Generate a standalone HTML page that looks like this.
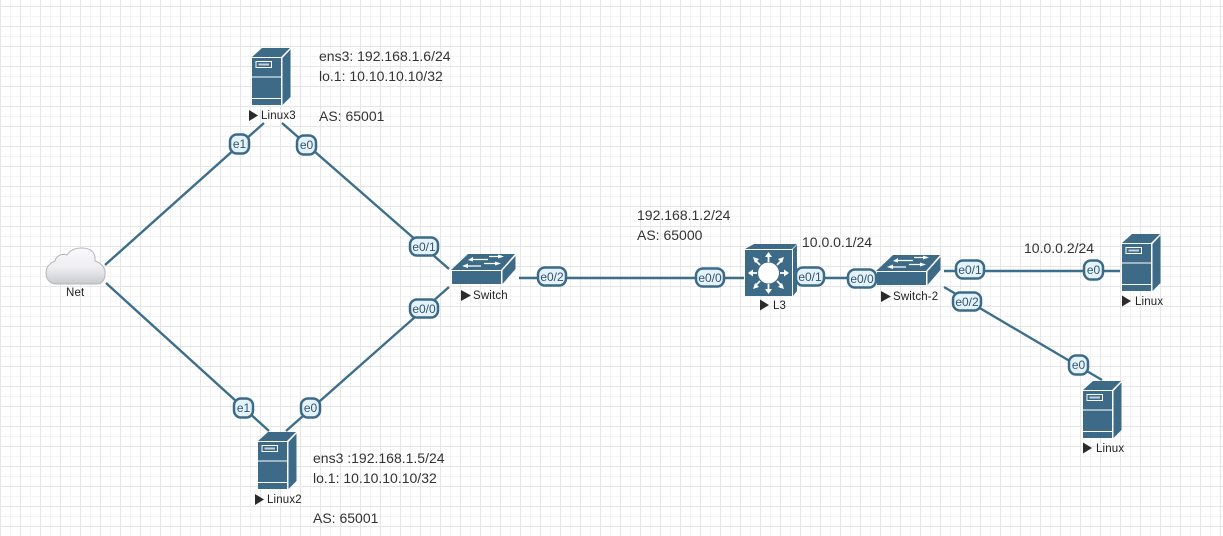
<!DOCTYPE html>
<html><head><meta charset="utf-8"><style>
html,body{margin:0;padding:0;background:#fff;width:1223px;height:536px;overflow:hidden}
svg{display:block}
.t{font:14px "Liberation Sans",sans-serif;fill:#333}
.n{font:11.5px "Liberation Sans",sans-serif;fill:#222;letter-spacing:.15px}
.l{font:12px "Liberation Sans",sans-serif;fill:#33566c;text-anchor:middle}
.b{fill:#e4f2fb;stroke:#3d6b87;stroke-width:2.5}
.k{stroke:#3d6e8a;stroke-width:2.4;fill:none}
</style></head><body>
<svg width="1223" height="536" viewBox="0 0 1223 536" xmlns="http://www.w3.org/2000/svg">
<defs>
<pattern id="g" x="0" y="6" width="20" height="20" patternUnits="userSpaceOnUse">
<path d="M10.5 0V20M0 10.5H20" stroke="#f3f3f3" stroke-width="1" fill="none"/>
<path d="M0.5 0V20M0 0.5H20" stroke="#e6e6e6" stroke-width="1" fill="none"/>
</pattern>
<linearGradient id="c" x1="0" y1="0" x2="0" y2="1"><stop offset="0" stop-color="#fafafc"/><stop offset="0.55" stop-color="#eeeef1"/><stop offset="1" stop-color="#c9cace"/></linearGradient>
<g id="srv">
<path d="M0 9L10 0H38L29 9Z" fill="#3d6b87"/>
<path d="M0 10H29V57H0Z" fill="#3d6b87"/>
<path d="M30.500 10L38.500 1.500V49L30.500 57Z" fill="#3d6b87"/>
<rect x="4" y="13.500" width="15.500" height="6" fill="none" stroke="#fff" stroke-width="1"/>
<rect x="6.500" y="15.500" width="10.500" height="2" fill="#fff" opacity=".7"/>
<path d="M0 29H29M0 50.500H29" stroke="#fff" stroke-width="1"/>
</g>
<g id="sw">
<path d="M0 16L17 0H64L50 16Z" fill="#3d6b87"/>
<path d="M1 17H50V30H1Z" fill="#3d6b87"/>
<path d="M51.500 16.500L64.500 2V15L51.500 30Z" fill="#3d6b87"/>
<path d="M22 5.500H37M38 2.500L51 2.500M17 12H30M33 9.500H47" stroke="#fff" stroke-width="1.300"/>
<path d="M22 3L17 6L22 7.500ZM47 0.500L53 2.500L47 4.500ZM17 9.500L11 12L17 14ZM44 7.500L50 9.500L44 11.500Z" fill="#fff"/>
</g>
</defs>
<rect width="1223" height="536" fill="#fff"/>
<rect width="1223" height="536" fill="url(#g)"/>

<g class="k">
<path d="M105 265L264 123"/>
<path d="M282 123L449 269"/>
<path d="M106 283L269 431"/>
<path d="M449 287L286 431"/>
<path d="M519 278H744"/>
<path d="M824 278H848"/>
<path d="M944 271H1120"/>
<path d="M944 287L1102 380"/>
</g>

<!-- cloud -->
<path d="M56 284C49 284 46 278 46 273C46 267 50 263 55 261C56 256 62 253 67 255C70 250 76 248 82 248C90 248 96 252 95 261C101 263 106 268 105 274C105 280 102 284 97 284Z" fill="url(#c)" stroke="#b5b6bc" stroke-width="1"/>
<text class="n" x="66" y="296">Net</text>

<!-- servers -->
<use href="#srv" x="252" y="48"/>
<use href="#srv" x="258" y="432"/>
<use href="#srv" x="1122" y="234"/>
<use href="#srv" x="1083" y="381"/>

<!-- switches -->
<use href="#sw" x="451" y="254"/>
<use href="#sw" x="876" y="255"/>

<!-- L3 -->
<path d="M745 249L754 244H797L792 249Z" fill="#3d6b87"/>
<rect x="745" y="250" width="47" height="46" fill="#3d6b87"/>
<path d="M793 249L797 245V291L793 296Z" fill="#3d6b87"/>
<circle cx="768.500" cy="273" r="10.500" fill="#fff"/>
<g stroke="#fff" stroke-width="1.800" fill="#fff">
<path d="M768.500 262V255M768.500 284V291M757 273H751M780 273H786M760 265L755 260M777 265L782 260M760 281L755 286M777 281L782 286"/>
</g>
<path d="M768.500 252L765 257H772ZM768.500 294L765 289H772ZM748 273L753 269.500V276.500ZM789 273L784 269.500V276.500ZM753 257L759 259L755 263ZM784 257L778 259L782 263ZM753 289L755 283L759 287ZM784 289L782 283L778 287Z" fill="#fff"/>

<!-- node labels -->
<path d="M249 110L258 115.500L249 121Z M255 494L264 499.500L255 505Z M461 290L471 295.500L461 301Z M881 291L891 296.500L881 302Z M760 299.500L769 305L760 310.500Z M1122 295.500L1131 301L1122 306.500Z M1083 442.500L1092 448L1083 453.500Z" fill="#2b2b2b"/>
<text class="n" x="261" y="119">Linux3</text>
<text class="n" x="267" y="503">Linux2</text>
<text class="n" x="473" y="299">Switch</text>
<text class="n" x="893" y="300">Switch-2</text>
<text class="n" x="773" y="309">L3</text>
<text class="n" x="1135" y="305">Linux</text>
<text class="n" x="1096" y="452">Linux</text>

<!-- connector labels -->
<g>
<rect class="b" x="230" y="134.500" width="19" height="19" rx="7"/><text class="l" x="239.500" y="148">e1</text>
<rect class="b" x="297" y="135.500" width="19" height="19" rx="7"/><text class="l" x="306.500" y="149">e0</text>
<rect class="b" x="410" y="237.500" width="28" height="18" rx="7"/><text class="l" x="424" y="251">e0/1</text>
<rect class="b" x="410" y="299.500" width="28" height="18" rx="7"/><text class="l" x="424" y="313">e0/0</text>
<rect class="b" x="234" y="398.500" width="19" height="19" rx="7"/><text class="l" x="243.500" y="412">e1</text>
<rect class="b" x="301" y="398.500" width="19" height="19" rx="7"/><text class="l" x="310.500" y="412">e0</text>
<rect class="b" x="538" y="267.500" width="28" height="18" rx="7"/><text class="l" x="552" y="281">e0/2</text>
<rect class="b" x="696" y="268.500" width="28" height="18" rx="7"/><text class="l" x="710" y="282">e0/0</text>
<rect class="b" x="796" y="267.500" width="28" height="18" rx="7"/><text class="l" x="810" y="281">e0/1</text>
<rect class="b" x="848" y="269.500" width="28" height="18" rx="7"/><text class="l" x="862" y="283">e0/0</text>
<rect class="b" x="956" y="260.500" width="28" height="18" rx="7"/><text class="l" x="970" y="274">e0/1</text>
<rect class="b" x="953" y="292.500" width="28" height="18" rx="7"/><text class="l" x="967" y="306">e0/2</text>
<rect class="b" x="1084" y="260.500" width="19" height="19" rx="7"/><text class="l" x="1093.500" y="274">e0</text>
<rect class="b" x="1069" y="355.500" width="19" height="19" rx="7"/><text class="l" x="1078.500" y="369">e0</text>
</g>

<!-- annotations -->
<text class="t" x="319" y="61">ens3: 192.168.1.6/24</text>
<text class="t" x="319" y="81">lo.1: 10.10.10.10/32</text>
<text class="t" x="319" y="121">AS: 65001</text>
<text class="t" x="313" y="463">ens3 :192.168.1.5/24</text>
<text class="t" x="313" y="483">lo.1: 10.10.10.10/32</text>
<text class="t" x="313" y="523">AS: 65001</text>
<text class="t" x="637" y="220">192.168.1.2/24</text>
<text class="t" x="637" y="240">AS: 65000</text>
<text class="t" x="802" y="247">10.0.0.1/24</text>
<text class="t" x="1024" y="253">10.0.0.2/24</text>
</svg>
</body></html>
